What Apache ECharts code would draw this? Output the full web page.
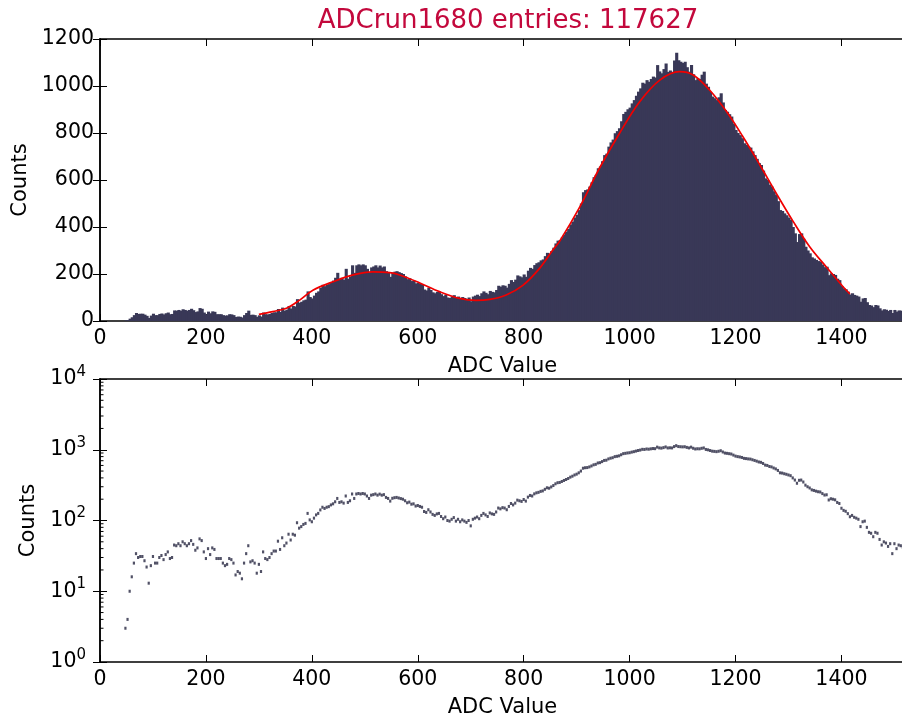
<!DOCTYPE html>
<html>
<head>
<meta charset="utf-8">
<script src="https://cdn.jsdelivr.net/npm/echarts@6/dist/echarts.min.js"></script>
<style>html,body{margin:0;padding:0;background:#fff;}#c{width:902px;height:719px;}</style>
</head>
<body>
<div id="c"></div>
<script>
// ---------- data ----------
const titleText = 'ADCrun1680 entries: 117627';
const binWidth = 4;
// counts per bin, each block starts at the given ADC value (bin centre), step = binWidth
const startLow = 48;
const countsLow = [3,4,10,16,25,34,30,31,31,27,22,13,23,31,25,25,30,32,28,33,36,29,30,45,44,47,44,50,47,44,47,52,46,38,41,55,52,36,29,40,33,41,39,29,29,29,25,23,24,29,28,25,17,19,18,15,25,34,44,26,27,25,18,24,19,36,29,28,30,34,37,37,51,39,57,44,48,64,53,64,62];
const startPeak2 = 372;
const countsPeak2 = [93,78,82,88,91,126,102,96,108,120,126,141,154,148,154,157,166,172,184,205,180,184,176,222,180,190,237,205,237,241,237,241,237,222,205,228,232,237,228];
const startValley = 528;
const countsValley = [236,228,232,212,205,188,206,210,212,208,204,200,190,178,182,170,172,160,163,158,154,134,130,142,132,122,118,124,126,114,106,112,100,98,104,110,98,104,96,102,98,94,100,84,104,108,112,106,118,126,120,114,128,124,122,132,150,146,152,150,142,158,174,166,176,194,190,186,198,188,214,226,222,238,246,250,258,262,276,290,286,298,312,330,342];
const startMain = 868;
const countsMain = [345,356,368,380,392,410,423,440,452,472,500,548,557,560,572,590,612,622,650,657,680,706,712,742,760,772,799,808,820,850,881,890,901,908,926,940,958,976,990,1014,1010,1025,1018,1030,1040,1036,1089,1062,1054,1072,1096,1060,1066,1061,1108,1142,1110,1103,1098,1103,1080,1061,1089,1050,1025,1033,1030,1048,1061,1010,997,975,955,948,940,952,969,930,898,890,880,870,840,813,800,791,778,756,750,742,738,722,706,690,672,664,640,607,600,580,572,552,536,510,472,468,458,450,440,430,400,373,336,370,373,350,316,300,288,271,266,260,255,253,240,229,231,195,203,200,196,180,174,149,139,135,125,113,118,111,108,104,82,96,98,80,68,66,59,68,66,54,45,50,48,43,47,34,47,40,45,44,42];
// fit curve
const fitX = [300,326,352,377,402,440,478,515,547,566,603,641,679,710,736,767,799,830,855,868,906,943,981,1019,1057,1094,1120,1151,1183,1214,1246,1277,1309,1340,1371,1403,1416];
const fitY = [28,40,54,89,131,167,196,209,206,196,163,125,96,88,92,111,153,224,302,340,486,650,799,933,1025,1061,1047,983,891,784,664,543,423,316,231,146,115];
// axes
const logDecades = [1,10,100,1000,10000];

// ---------- build ----------
const blocks = [[startLow,countsLow],[startPeak2,countsPeak2],[startValley,countsValley],[startMain,countsMain]];
const hist = [];
blocks.forEach(([s, arr]) => arr.forEach((c, i) => hist.push([s + i * binWidth, c])));
const histLog = hist.filter(d => d[1] > 0);
const fitData = fitX.map((x, i) => [x, fitY[i]]);
const minorLog = [];
logDecades.slice(0, -1).forEach(d => { for (let k = 2; k <= 9; k++) minorLog.push([0, d * k]); });

const FONT = 'DejaVu Sans';
const barColor = '#393857';
const xMin = 0, xMax = 1520;
const plain = v => String(v);

function xAxisCfg(gridIndex, pos, showLabel, name) {
  return {
    type: 'value', gridIndex, position: pos, min: xMin, max: xMax, interval: 200,
    name: name || '', nameLocation: 'middle', nameGap: 35,
    nameTextStyle: {fontFamily: FONT, fontSize: 21, color: '#000'},
    axisLine: {show: true, onZero: false, lineStyle: {color: '#000', width: 1.5}},
    axisTick: {show: true, inside: true, length: 7, lineStyle: {color: '#000', width: 1}},
    axisLabel: {show: showLabel, showMaxLabel: false, margin: 7, formatter: plain,
                fontFamily: FONT, fontSize: 20.5, color: '#000'},
    splitLine: {show: false}
  };
}

const chart = echarts.init(document.getElementById('c'), null, {renderer: 'canvas'});
chart.setOption({
  animation: false,
  backgroundColor: '#fff',
  title: {
    text: titleText, left: 503, top: 3, textAlign: 'center',
    textStyle: {fontFamily: FONT, fontSize: 26, fontWeight: 'normal', color: '#c3083c'}
  },
  grid: [
    {left: 100, top: 39, width: 805, height: 282, containLabel: false, outerBoundsMode: 'none'},
    {left: 100, top: 379, width: 805, height: 283, containLabel: false, outerBoundsMode: 'none'}
  ],
  xAxis: [
    xAxisCfg(0, 'bottom', true, 'ADC Value'),
    xAxisCfg(0, 'top', false),
    xAxisCfg(1, 'bottom', true, 'ADC Value'),
    xAxisCfg(1, 'top', false)
  ],
  yAxis: [
    {
      type: 'value', gridIndex: 0, position: 'left', min: 0, max: 1200, interval: 200,
      name: 'Counts', nameLocation: 'middle', nameGap: 64,
      nameTextStyle: {fontFamily: FONT, fontSize: 21, color: '#000'},
      axisLine: {show: true, lineStyle: {color: '#000', width: 1.5}},
      axisTick: {show: true, inside: true, length: 7, lineStyle: {color: '#000'}},
      axisLabel: {margin: 6, formatter: plain, fontFamily: FONT, fontSize: 20.5, color: '#000'},
      splitLine: {show: false}
    },
    {
      type: 'value', gridIndex: 0, position: 'right', min: 0, max: 1200, interval: 200,
      axisLine: {show: true, lineStyle: {color: '#000', width: 1.5}},
      axisTick: {show: true, inside: true, length: 7, lineStyle: {color: '#000'}},
      axisLabel: {show: false}, splitLine: {show: false}
    },
    {
      type: 'log', gridIndex: 1, position: 'left', min: 1, max: 10000, logBase: 10,
      name: 'Counts', nameLocation: 'middle', nameGap: 59,
      nameTextStyle: {fontFamily: FONT, fontSize: 21, color: '#000'},
      axisLine: {show: true, lineStyle: {color: '#000', width: 1.5}},
      axisTick: {show: true, inside: true, length: 7, lineStyle: {color: '#000'}},
      axisLabel: {
        margin: 14,
        formatter: v => '{b|10}{s|' + Math.round(Math.log10(v)) + '}',
        rich: {
          b: {fontFamily: FONT, fontSize: 20.5, color: '#000'},
          s: {fontFamily: FONT, fontSize: 15, color: '#000', padding: [0, 0, 14, 0]}
        }
      },
      splitLine: {show: false}
    },
    {
      type: 'log', gridIndex: 1, position: 'right', min: 1, max: 10000, logBase: 10,
      axisLine: {show: true, lineStyle: {color: '#000', width: 1.5}},
      axisTick: {show: true, inside: true, length: 7, lineStyle: {color: '#000'}},
      axisLabel: {show: false}, splitLine: {show: false}
    }
  ],
  series: [
    {
      type: 'custom', name: 'hist', xAxisIndex: 0, yAxisIndex: 0, data: hist, clip: true,
      renderItem: (params, api) => {
        const x = api.value(0), c = api.value(1);
        const a = api.coord([x - binWidth / 2, c]);
        const b = api.coord([x + binWidth / 2, 0]);
        return {type: 'rect', shape: {x: a[0], y: a[1], width: b[0] - a[0] + 1, height: b[1] - a[1]},
                style: {fill: barColor}};
      },
      z: 2
    },
    {
      type: 'line', name: 'fit', xAxisIndex: 0, yAxisIndex: 0, data: fitData,
      smooth: 0.35, showSymbol: false, symbol: 'none',
      lineStyle: {color: '#f00000', width: 1.7}, z: 5
    },
    {
      type: 'scatter', name: 'log', xAxisIndex: 2, yAxisIndex: 2, data: histLog,
      symbol: 'rect', symbolSize: [2.2, 3], itemStyle: {color: '#262540'}
    },
    {
      type: 'custom', name: 'minorTicks', xAxisIndex: 2, yAxisIndex: 2, data: minorLog, silent: true,
      renderItem: (params, api) => {
        const p = api.coord([api.value(0), api.value(1)]);
        return {type: 'line', shape: {x1: p[0], y1: p[1], x2: p[0] + 3.5, y2: p[1]},
                style: {stroke: '#000', lineWidth: 1}};
      }
    }
  ]
});
</script>
</body>
</html>
